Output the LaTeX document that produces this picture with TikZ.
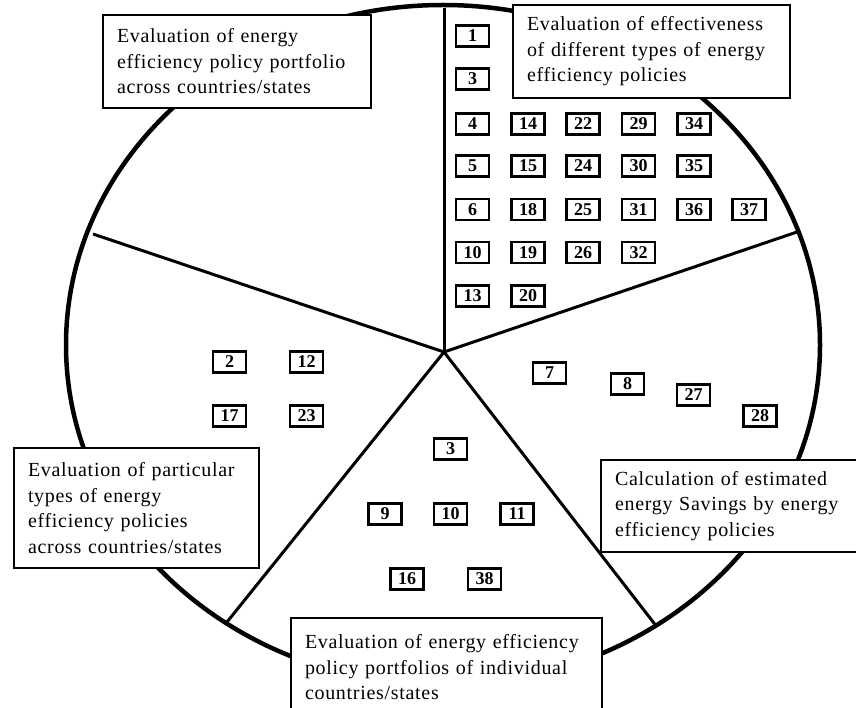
\documentclass[tikz,border=0pt]{standalone}
\usepackage{fontspec}
\setmainfont{Liberation Serif}
\newfontfamily\labelfont[LetterSpace=3.5]{Liberation Serif}
\newfontfamily\numfont{Liberation Serif}
\begin{document}
\begin{tikzpicture}[x=1pt,y=-1pt,
  rim/.style={line width=4.5pt},
  spoke/.style={line width=3pt},
  tbox/.style={draw, fill=white, line width=2pt, anchor=north west, align=left,
    inner xsep=14pt, inner ysep=0pt,
    font=\labelfont\fontsize{20}{25.5}\selectfont},
  nbox/.style={draw, fill=white, line width=2.6pt, minimum width=33pt, minimum height=21pt,
    inner sep=0pt, font=\numfont\bfseries\fontsize{18}{18}\selectfont}]
\useasboundingbox (0,0) rectangle (856,708);

% outer rim of the pie
\draw[rim] (443,345) ellipse [x radius=377, y radius=340];

% spokes from the hub
\coordinate (hub) at (444,352);
\coordinate (sTop) at (444,8);
\coordinate (sUL) at (93,234);
\coordinate (sUR) at (797,232);
\coordinate (sLL) at (227,622);
\coordinate (sLR) at (657,627);
\foreach \e in {sTop,sUL,sUR,sLL,sLR} \draw[spoke] (hub) -- (\e);

% sector titles
\node[tbox, text width=240pt, minimum height=93pt] (tA) at (102,14)
  {Evaluation of energy\\efficiency policy portfolio\\across countries/states};
\node[tbox, text width=249pt, minimum height=93pt] (tB) at (512,4)
  {Evaluation of effectiveness\\of different types of energy\\efficiency policies};
\node[tbox, text width=217pt, minimum height=120pt] (tC) at (13,447)
  {Evaluation of particular\\types of energy\\efficiency policies\\across countries/states};
\node[tbox, text width=230pt, minimum height=92pt] (tD) at (600,459)
  {Calculation of estimated\\energy Savings by energy\\efficiency policies};
\node[tbox, text width=283pt, minimum height=99pt] (tE) at (290,617)
  {Evaluation of energy efficiency\\policy portfolios of individual\\countries/states};

% study numbers, upper-right sector
\node[nbox] (n1) at (472.5,36) {1};
\node[nbox] (n3a) at (472.5,79) {3};
\node[nbox] (n4) at (472.5,124) {4};
\node[nbox] (n14) at (528,124) {14};
\node[nbox] (n22) at (583,124) {22};
\node[nbox] (n29) at (638.5,124) {29};
\node[nbox] (n34) at (694,124) {34};
\node[nbox] (n5) at (472.5,166) {5};
\node[nbox] (n15) at (528,166) {15};
\node[nbox] (n24) at (583,166) {24};
\node[nbox] (n30) at (638.5,166) {30};
\node[nbox] (n35) at (694,166) {35};
\node[nbox] (n6) at (472.5,209.5) {6};
\node[nbox] (n18) at (528,209.5) {18};
\node[nbox] (n25) at (583,209.5) {25};
\node[nbox] (n31) at (638.5,209.5) {31};
\node[nbox] (n36) at (694,209.5) {36};
\node[nbox] (n37) at (749,209.5) {37};
\node[nbox] (n10a) at (472.5,252.5) {10};
\node[nbox] (n19) at (528,252.5) {19};
\node[nbox] (n26) at (583,252.5) {26};
\node[nbox] (n32) at (638.5,252.5) {32};
\node[nbox] (n13) at (472.5,296) {13};
\node[nbox] (n20) at (528,296) {20};

% left sector
\node[nbox] (n2) at (229.5,362) {2};
\node[nbox] (n12) at (306.5,362) {12};
\node[nbox] (n17) at (229.5,416) {17};
\node[nbox] (n23) at (306.5,416) {23};

% lower-right sector
\node[nbox] (n7) at (549.5,373) {7};
\node[nbox] (n8) at (627.5,384) {8};
\node[nbox] (n27) at (693.5,395) {27};
\node[nbox] (n28) at (760,416) {28};

% bottom sector
\node[nbox] (n3b) at (450.5,449) {3};
\node[nbox] (n9) at (385,514) {9};
\node[nbox] (n10b) at (450.5,514) {10};
\node[nbox] (n11) at (517,514) {11};
\node[nbox] (n16) at (407,579) {16};
\node[nbox] (n38) at (484.5,579) {38};
\end{tikzpicture}
\end{document}
